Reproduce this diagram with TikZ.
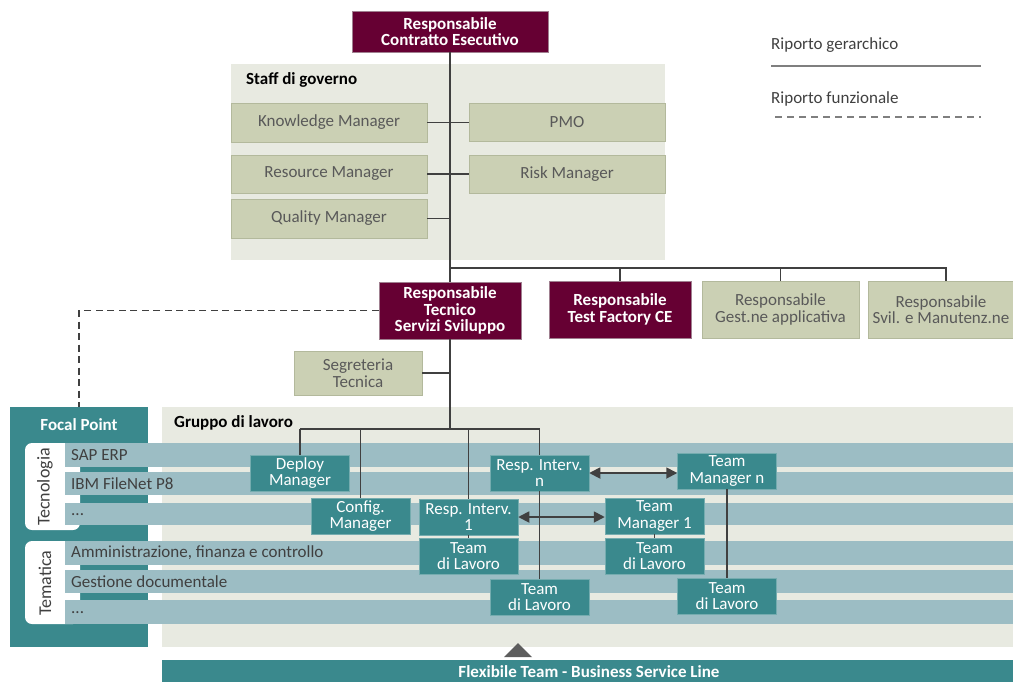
\documentclass[tikz,border=0pt]{standalone}
\usepackage{fontspec}
\setmainfont{Carlito}
\usetikzlibrary{arrows.meta}
\definecolor{maroonfill}{HTML}{660033}
\definecolor{maroonedge}{HTML}{A08090}
\definecolor{panelbg}{HTML}{E8EAE1}
\definecolor{olivebox}{HTML}{CBD0B4}
\definecolor{oliveedge}{HTML}{B3B99C}
\definecolor{tealfill}{HTML}{3A898D}
\definecolor{bandfill}{HTML}{9CBDC4}
\definecolor{linegrey}{HTML}{404040}
\definecolor{textgrey}{HTML}{595959}
\definecolor{legendgrey}{HTML}{7F7F7F}
\newcommand{\regfont}{\fontsize{17}{16.5}\selectfont}
\newcommand{\boldfont}{\fontsize{17}{16.5}\selectfont\bfseries}
\begin{document}
\begin{tikzpicture}[x=1pt,y=-1pt,
  base/.style={inner sep=0pt, align=center},
  wh/.style 2 args={minimum width=#1pt, minimum height=#2pt},
  maroonbox/.style={base, fill=maroonfill, draw=maroonedge, line width=0.6pt, text=white, font=\boldfont},
  olivenode/.style={base, fill=olivebox, draw=oliveedge, line width=0.6pt, text=textgrey, font=\regfont},
  tealbox/.style={base, fill=tealfill, draw=tealfill!70!white, line width=0.5pt, text=white, font=\regfont, wh={99}{36}},
  panel/.style={base, fill=panelbg, anchor=north west},
  paneltitle/.style={base, anchor=west, font=\boldfont, text=black},
  bandtext/.style={base, anchor=west, text=linegrey, font=\regfont},
  tabtext/.style={base, rotate=90, text=linegrey, font=\fontsize{18}{18}\selectfont},
  link/.style={draw=linegrey, line width=1.6pt},
  dashlink/.style={draw=linegrey, line width=1.6pt, dash pattern=on 7pt off 4.5pt},
  biarrow/.style={draw=linegrey, line width=1.8pt, {Triangle[length=11pt,width=11pt]}-{Triangle[length=11pt,width=11pt]}},
  legendtext/.style={base, anchor=west, text=linegrey, font=\regfont},
]
\clip (0,0) rectangle (1013,681);
\fill[white] (0,0) rectangle (1013,681);

% ---- background panels ----
\node[panel, wh={434}{196}] (staff) at (231,64) {};
\node[paneltitle] (stafftitle) at (246,80) {Staff di governo};
\node[panel, wh={851}{240}] (gruppo) at (162,407) {};
\node[paneltitle] (gruppotitle) at (174,423) {Gruppo di lavoro};
\node[panel, fill=tealfill, wh={138}{240}] (fp) at (10,407) {};
\node[base, font=\boldfont, text=white] (fptitle) at (79,425) {Focal Point};
\node[panel, fill=tealfill, wh={851}{30}] (flex) at (162,660) {};
\node[base, font=\fontsize{17}{17}\selectfont\bfseries, text=white] (flextext) at (589,672) {Flexibile Team - Business Service Line};
\fill[linegrey!85!white] (504,657) -- (518,643) -- (532,657) -- cycle;

% ---- category tabs ----
\fill[white, rounded corners=7pt] (25,443) rectangle (80,530);
\fill[white, rounded corners=7pt] (25,541) rectangle (80,624);
\node[tabtext] (tecno) at (45,487) {Tecnologia};
\node[tabtext] (tema) at (45,583) {Tematica};

% ---- horizontal bands ----
\fill[bandfill] (65,443) rectangle (1013,467);
\fill[bandfill] (65,472) rectangle (1013,495);
\fill[bandfill] (65,503) rectangle (1013,525);
\fill[bandfill] (65,541) rectangle (1013,565);
\fill[bandfill] (65,570) rectangle (1013,593);
\fill[bandfill] (65,600) rectangle (1013,624);
\node[bandtext] (b1) at (71,455) {SAP ERP};
\node[bandtext] (b2) at (71,484) {IBM FileNet P8};
\node[bandtext] (b3) at (71,515) {...};
\node[bandtext] (b4) at (71,553) {Amministrazione, finanza e controllo};
\node[bandtext] (b5) at (71,582) {Gestione documentale};
\node[bandtext] (b6) at (71,613) {...};

% ---- top management ----
\node[maroonbox, wh={196}{41}] (rce) at (450,31.5) {Responsabile\\Contratto Esecutivo};
\node[olivenode, wh={196}{39}] (km) at (329,122.5) {Knowledge Manager};
\node[olivenode, wh={196}{38}] (pmo) at (567,122) {PMO};
\node[olivenode, wh={196}{38}] (resm) at (329,174) {Resource Manager};
\node[olivenode, wh={196}{38}] (risk) at (567,174) {Risk Manager};
\node[olivenode, wh={196}{39}] (qm) at (329,218.5) {Quality Manager};

% ---- second level ----
\node[maroonbox, wh={142}{57}] (rts) at (450,310.5) {Responsabile\\Tecnico\\Servizi Sviluppo};
\node[maroonbox, wh={142}{57}] (tf) at (620,309.5) {Responsabile\\Test Factory CE};
\node[olivenode, wh={157}{57}] (gest) at (780.5,309.5) {Responsabile\\Gest.ne applicativa};
\node[olivenode, wh={146}{57}] (svil) at (941,309.5) {Responsabile\\Svil. e Manutenz.ne};
\node[olivenode, wh={128}{44}] (seg) at (358,373) {Segreteria\\Tecnica};

% ---- working group ----
\node[tealbox] (dm) at (300,473) {Deploy\\Manager};
\node[tealbox] (cm) at (360.5,516) {Config.\\Manager};
\node[tealbox] (rin) at (539.5,473) {Resp. Interv.\\n};
\node[tealbox] (tmn) at (727,471) {Team\\Manager n};
\node[tealbox] (ri1) at (468.5,517) {Resp. Interv.\\1};
\node[tealbox] (tm1) at (654.5,516) {Team\\Manager 1};
\node[tealbox] (td1) at (468.5,556) {Team\\di Lavoro};
\node[tealbox] (tdm1) at (654.5,556) {Team\\di Lavoro};
\node[tealbox] (tdn) at (539.5,597) {Team\\di Lavoro};
\node[tealbox] (tdmn) at (727,596) {Team\\di Lavoro};

% ---- hierarchical links ----
\coordinate (hub) at (450,268);
\coordinate (ghub) at (450,429);
\coordinate (svildrop) at ([xshift=5pt]svil.north);
\draw[link] (rce.south) -- (rts.north);
\draw[link] (km.east) -- (km.east -| pmo.west);
\draw[link] (resm.east) -- (resm.east -| risk.west);
\draw[link] (qm.east) -- (qm.east -| rce.south);
\draw[link] (hub) -- (hub -| svildrop) -- (svildrop);
\draw[link] (hub -| tf.north) -- (tf.north);
\draw[link] (hub -| gest.north) -- (gest.north);
\draw[link] (seg.east) -- (seg.east -| rts.south);
\draw[link] (rts.south) -- (ghub);
\draw[link] (ghub -| dm.north) -- (dm.north);
\draw[link] (ghub -| dm.north) -- (ghub -| rin.north) -- (rin.north);
\draw[link] (ghub -| cm.north) -- (cm.north);
\draw[link] (ghub -| ri1.north) -- (ri1.north);
\draw[link] (rin.south) -- (tdn.north);
\draw[link] (tmn.south) -- (tdmn.north);
\draw[link] (ri1.south) -- (td1.north);
\draw[link] (tm1.south) -- (tdm1.north);

% ---- functional link ----
\draw[dashlink] (rts.west) -- (rts.west -| fp.north) -- (fp.north);

% ---- cooperation arrows ----
\draw[biarrow] (rin.east) -- (rin.east -| tmn.west);
\draw[biarrow] (ri1.east) -- (ri1.east -| tm1.west);

% ---- legend ----
\node[legendtext] (lg1) at (771,45) {Riporto gerarchico};
\node[legendtext] (lg2) at (771,99) {Riporto funzionale};
\coordinate (l1a) at (771,66);
\coordinate (l1b) at (981,66);
\coordinate (l2a) at (775,117);
\coordinate (l2b) at (981,117);
\draw[draw=legendgrey, line width=1.8pt] (l1a) -- (l1b);
\draw[draw=legendgrey, line width=1.8pt, dash pattern=on 7pt off 5pt] (l2a) -- (l2b);
\end{tikzpicture}
\end{document}
